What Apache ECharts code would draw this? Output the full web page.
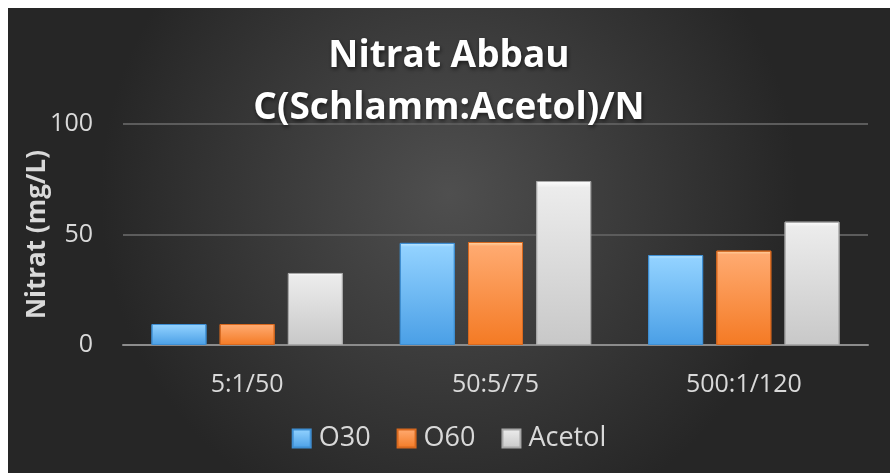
<!DOCTYPE html>
<html>
<head>
<meta charset="utf-8">
<script src="https://cdn.jsdelivr.net/npm/echarts@6/dist/echarts.min.js"></script>
<style>
  html, body { margin: 0; padding: 0; background: #fff; }
  #main { position: absolute; left: 8px; top: 8px; width: 882px; height: 465px; }
</style>
</head>
<body>
<div id="main"></div>
<script type="text/javascript">
    // Daten
    var categories = ['5:1/50', '50:5/75', '500:1/120'];
    var o30 = [9.5, 46.2, 40.7];
    var o60 = [9.5, 46.6, 42.7];
    var acetol = [32.6, 74.2, 55.8];
    var yTicks = [0, 50, 100];

    // Balkenverlauf: heller Rand oben, dann Körper hell -> dunkel
    function grad(edge, top, bottom) {
        return new echarts.graphic.LinearGradient(0, 0, 0, 1, [
            { offset: 0, color: edge },
            { offset: 0.04, color: top },
            { offset: 1, color: bottom }
        ]);
    }

    var myChart = echarts.init(document.getElementById('main'));
    var labelFont = '"Open Sans", sans-serif';

    var option = {
        backgroundColor: {
            type: 'radial', x: 0.5, y: 0.4, r: 0.75,
            colorStops: [
                { offset: 0, color: '#4f4f4f' },
                { offset: 1, color: '#262626' }
            ]
        },
        title: {
            text: 'Nitrat Abbau\nC(Schlamm:Acetol)/N',
            left: 'center',
            top: 17,
            textStyle: {
                color: '#ffffff',
                fontSize: 37,
                fontWeight: 'bold',
                fontFamily: labelFont,
                lineHeight: 52,
                textShadowColor: 'rgba(0,0,0,0.6)',
                textShadowBlur: 4,
                textShadowOffsetX: 1,
                textShadowOffsetY: 2
            }
        },
        legend: {
            top: 412,
            left: 'center',
            itemWidth: 18,
            itemHeight: 18,
            itemGap: 26,
            icon: 'rect',
            textStyle: { color: '#d9d9d9', fontSize: 27, fontFamily: labelFont, padding: [0, 0, 0, 3] },
            data: ['O30', 'O60', 'Acetol']
        },
        grid: { left: 115, right: 22, top: 116, bottom: 128, outerBoundsMode: 'none' },
        xAxis: {
            type: 'category',
            data: categories,
            axisLine: { lineStyle: { color: '#8c8c8c', width: 2 } },
            axisTick: { show: false },
            axisLabel: { color: '#d9d9d9', fontSize: 25, fontFamily: labelFont, margin: 27 }
        },
        yAxis: {
            type: 'value',
            min: yTicks[0],
            max: yTicks[yTicks.length - 1],
            interval: 50,
            name: 'Nitrat (mg/L)',
            nameLocation: 'middle',
            nameGap: 72,
            nameRotate: 90,
            nameMoveOverlap: false,
            nameTextStyle: { color: '#d9d9d9', fontSize: 26, fontWeight: 'bold', fontFamily: labelFont },
            axisLabel: { color: '#d9d9d9', fontSize: 25, fontFamily: labelFont, margin: 30 },
            axisLine: { show: false },
            axisTick: { show: false },
            splitLine: { lineStyle: { color: '#5c5c5c', width: 2 } }
        },
        series: [{
            name: 'O30',
            type: 'bar',
            data: o30,
            barWidth: 55,
            barGap: '24%',
            itemStyle: { color: grad('#c4eaff', '#92d2ff', '#4a9fe6'), borderColor: '#3f8fd3', borderWidth: 1 }
        }, {
            name: 'O60',
            type: 'bar',
            data: o60,
            barWidth: 55,
            barGap: '24%',
            itemStyle: { color: grad('#ffdcae', '#ffaa70', '#f47a24'), borderColor: '#d8691f', borderWidth: 1 }
        }, {
            name: 'Acetol',
            type: 'bar',
            data: acetol,
            barWidth: 55,
            barGap: '24%',
            itemStyle: { color: grad('#ffffff', '#ececec', '#c8c8c8'), borderColor: '#a8a8a8', borderWidth: 1 }
        }]
    };

    myChart.setOption(option);
</script>
</body>
</html>
